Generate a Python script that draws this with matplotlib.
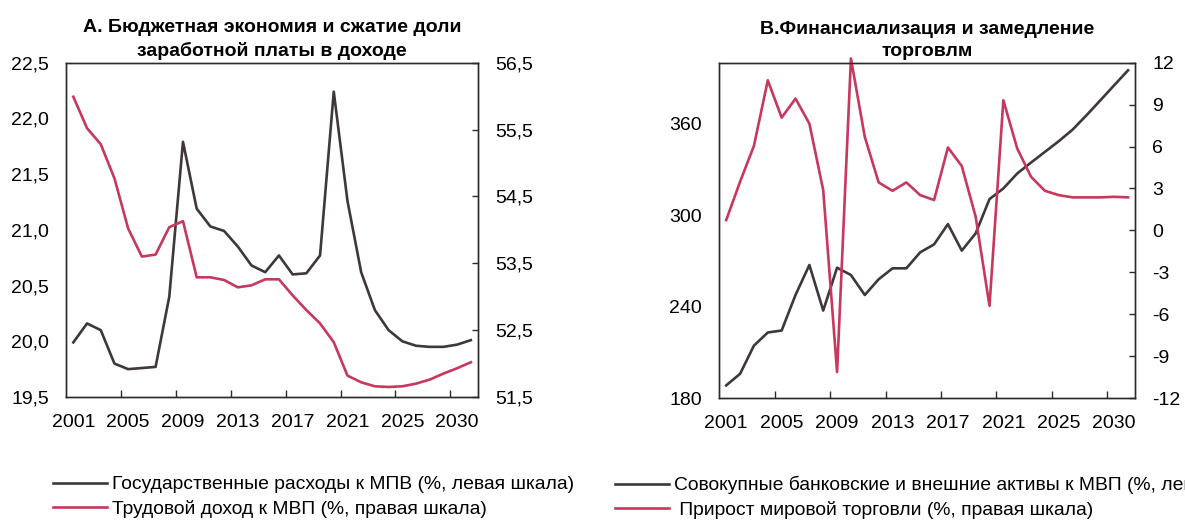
import numpy as np
import matplotlib.pyplot as plt
from matplotlib.ticker import FixedLocator, FuncFormatter

years = list(range(2001, 2031))
tick_labels = ['2001', '2005', '2009', '2013', '2017', '2021', '2025', '2030']

# panel A
gov_spending = [19.99, 20.16, 20.10, 19.80, 19.75, 19.76, 19.77, 20.40, 21.79, 21.19,
                21.03, 20.99, 20.85, 20.68, 20.62, 20.77, 20.60, 20.61, 20.77, 22.24,
                21.26, 20.62, 20.28, 20.10, 20.00, 19.96, 19.95, 19.95, 19.97, 20.01]
labor_share = [55.99, 55.52, 55.28, 54.77, 54.02, 53.60, 53.63, 54.04, 54.13, 53.29,
               53.29, 53.25, 53.14, 53.17, 53.26, 53.26, 53.02, 52.80, 52.60, 52.32,
               51.82, 51.72, 51.66, 51.65, 51.66, 51.70, 51.76, 51.85, 51.93, 52.02]

# panel B
assets = [188.3, 195.9, 214.4, 223.0, 224.3, 247.6, 267.3, 237.4, 265.5, 260.7,
          247.6, 257.9, 265.1, 265.1, 275.6, 280.8, 294.1, 276.7, 288.0, 310.5,
          317.5, 327.3, 334.5, 341.5, 348.5, 356.1, 365.5, 375.3, 385.2, 395.0]
trade_growth = [0.74, 3.48, 6.05, 10.74, 8.07, 9.43, 7.64, 2.88, -10.14, 12.3,
                6.69, 3.43, 2.83, 3.43, 2.52, 2.17, 5.93, 4.60, 0.98, -5.40,
                9.31, 5.86, 3.83, 2.83, 2.52, 2.36, 2.36, 2.36, 2.40, 2.36]

title_a = 'А. Бюджетная экономия и сжатие доли\nзаработной платы в доходе'
title_b = 'В.Финансиализация и замедление\nторговлм'
leg_a = ['Государственные расходы к МПВ (%, левая шкала)', 'Трудовой доход к МВП (%, правая шкала)']
leg_b = ['Совокупные банковские и внешние активы к МВП (%, левая шкала)',
         ' Прирост мировой торговли (%, правая шкала)']

dark = '#3e3838'
red = '#c8375e'
spine_c = '#2b2b2b'

plt.rcParams['font.family'] = ['Liberation Sans', 'DejaVu Sans']

fig = plt.figure(figsize=(11.85, 5.21), dpi=100)
axA = fig.add_axes([0.0561, 0.238, 0.347, 0.6417])
axB = fig.add_axes([0.607, 0.236, 0.3508, 0.6437])

x = np.arange(len(years))


def comma(v, pos):
    return ('%.1f' % v).replace('.', ',')


def setup(ax, axr, ylim, yticks, grid_at, rlim, rticks, fmt_l, fmt_r, title):
    ax.set_xlim(-0.5, len(years) - 0.5)
    ax.set_ylim(*ylim)
    ax.set_yticks(yticks)
    ax.yaxis.set_major_formatter(FuncFormatter(fmt_l))
    ax.yaxis.set_minor_locator(FixedLocator(grid_at))
    axr.set_ylim(*rlim)
    axr.set_yticks(rticks)
    axr.yaxis.set_major_formatter(FuncFormatter(fmt_r))
    # tick marks between category groups, labels on categories
    ax.set_xticks(np.arange(3.5, len(years) - 1, 4))
    ax.set_xticklabels([])
    ax.xaxis.set_minor_locator(FixedLocator(np.arange(0, len(years), 4)))
    ax.set_xticklabels(tick_labels, minor=True)
    ax.tick_params(axis='x', which='major', direction='in', length=5, width=1, color=spine_c)
    ax.tick_params(axis='x', which='minor', length=0, pad=12, labelsize=14)
    ax.tick_params(axis='y', which='both', length=0, pad=12.5, labelsize=14)
    axr.tick_params(axis='y', direction='in', length=4.5, width=1, color=spine_c,
                    pad=12.5, labelsize=14)
    ax.yaxis.grid(True, which='minor', color='#1a1a1a', linestyle=(0, (5, 3.5)), linewidth=1.2)
    ax.yaxis.grid(False, which='major')
    ax.set_axisbelow(True)
    for a in (ax, axr):
        for s in a.spines.values():
            s.set_color(spine_c)
            s.set_linewidth(1.0)
    ax.set_title(title, fontsize=14, fontweight='bold', pad=4.5, linespacing=1.42)


axA2 = axA.twinx()
setup(axA, axA2, (19.5, 22.5), np.arange(19.5, 22.51, 0.5), [20.0, 20.5, 21.0, 21.5, 22.0],
      (51.5, 56.5), np.arange(51.5, 56.51, 1.0), comma, comma, title_a)
lA1, = axA.plot(x, gov_spending, color=dark, lw=1.9, label=leg_a[0])
lA2, = axA2.plot(x, labor_share, color=red, lw=1.9, label=leg_a[1])

axB2 = axB.twinx()
setup(axB, axB2, (180, 400), [180, 240, 300, 360], [240, 300, 360],
      (-12, 12), np.arange(-12, 13, 3),
      lambda v, p: '%d' % v, lambda v, p: '%d' % v, title_b)
lB1, = axB.plot(x, assets, color=dark, lw=1.9, label=leg_b[0])
lB2, = axB2.plot(x, trade_growth, color=red, lw=1.9, label=leg_b[1], clip_on=False)

legend_font = {'family': ['Liberation Sans', 'DejaVu Sans'], 'size': 13.9}
for handles, xpos in (([lA1, lA2], 0.0447), ([lB1, lB2], 0.519)):
    fig.legend(handles=handles, loc='upper left', bbox_to_anchor=(xpos, 0.0864),
               frameon=False, prop=legend_font, handlelength=2.8, handletextpad=0.25,
               borderpad=0, borderaxespad=0, labelspacing=0.35)

fig.savefig('out.png', dpi=100)
